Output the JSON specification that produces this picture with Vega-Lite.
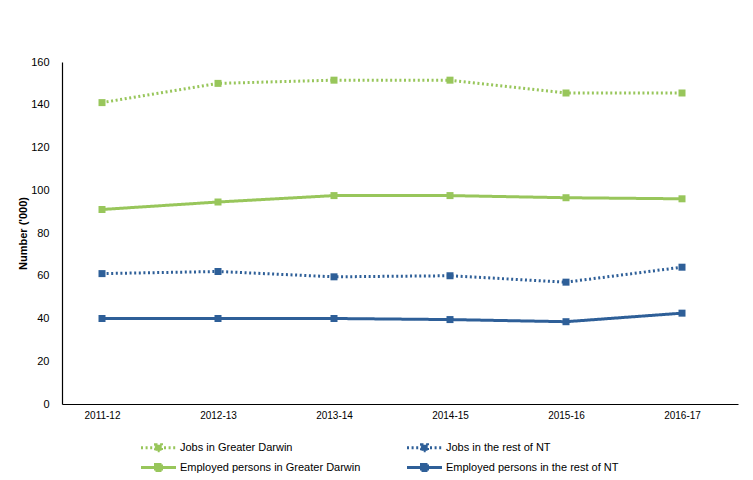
{
  "$schema": "https://vega.github.io/schema/vega-lite/v6.json",
  "autosize": {"type": "none"},
  "width": 676,
  "height": 342,
  "padding": {"left": 62, "top": 62, "right": 15, "bottom": 76},
  "background": "white",
  "config": {
    "view": {"stroke": null},
    "font": "Liberation Sans",
    "axis": {"grid": false, "ticks": false, "domainColor": "black", "domainWidth": 1.2, "labelColor": "black", "labelFont": "Liberation Sans", "titleFont": "Liberation Sans", "titleColor": "black"}
  },
  "data": {
    "values": [
      {"year": "2011-12", "series": "Jobs in Greater Darwin", "value": 141},
      {"year": "2012-13", "series": "Jobs in Greater Darwin", "value": 150},
      {"year": "2013-14", "series": "Jobs in Greater Darwin", "value": 151.5},
      {"year": "2014-15", "series": "Jobs in Greater Darwin", "value": 151.5},
      {"year": "2015-16", "series": "Jobs in Greater Darwin", "value": 145.5},
      {"year": "2016-17", "series": "Jobs in Greater Darwin", "value": 145.5},
      {"year": "2011-12", "series": "Jobs in the rest of NT", "value": 61},
      {"year": "2012-13", "series": "Jobs in the rest of NT", "value": 62},
      {"year": "2013-14", "series": "Jobs in the rest of NT", "value": 59.5},
      {"year": "2014-15", "series": "Jobs in the rest of NT", "value": 60},
      {"year": "2015-16", "series": "Jobs in the rest of NT", "value": 57},
      {"year": "2016-17", "series": "Jobs in the rest of NT", "value": 64},
      {"year": "2011-12", "series": "Employed persons in Greater Darwin", "value": 91},
      {"year": "2012-13", "series": "Employed persons in Greater Darwin", "value": 94.5},
      {"year": "2013-14", "series": "Employed persons in Greater Darwin", "value": 97.5},
      {"year": "2014-15", "series": "Employed persons in Greater Darwin", "value": 97.5},
      {"year": "2015-16", "series": "Employed persons in Greater Darwin", "value": 96.5},
      {"year": "2016-17", "series": "Employed persons in Greater Darwin", "value": 96},
      {"year": "2011-12", "series": "Employed persons in the rest of NT", "value": 40},
      {"year": "2012-13", "series": "Employed persons in the rest of NT", "value": 40},
      {"year": "2013-14", "series": "Employed persons in the rest of NT", "value": 40},
      {"year": "2014-15", "series": "Employed persons in the rest of NT", "value": 39.5},
      {"year": "2015-16", "series": "Employed persons in the rest of NT", "value": 38.5},
      {"year": "2016-17", "series": "Employed persons in the rest of NT", "value": 42.5}
    ]
  },
  "mark": {"type": "line", "strokeWidth": 3, "point": {"filled": true, "shape": "square", "size": 49, "opacity": 1}},
  "encoding": {
    "x": {
      "field": "year", "type": "ordinal",
      "scale": {"type": "point", "padding": 0.4138, "align": 0.4167},
      "axis": {"title": null, "labelAngle": 0, "labelFontSize": 10, "labelPadding": 6}
    },
    "y": {
      "field": "value", "type": "quantitative",
      "scale": {"domain": [0, 160], "nice": false},
      "axis": {"values": [0, 20, 40, 60, 80, 100, 120, 140, 160], "title": "Number ('000)", "titleFontSize": 11, "titleFontWeight": "bold", "labelFontSize": 11, "labelPadding": 13, "titlePadding": 2}
    },
    "color": {
      "field": "series", "type": "nominal",
      "scale": {
        "domain": ["Jobs in Greater Darwin", "Employed persons in Greater Darwin", "Jobs in the rest of NT", "Employed persons in the rest of NT"],
        "range": ["#98C65B", "#98C65B", "#2E5F98", "#2E5F98"]
      },
      "legend": {
        "title": null,
        "orient": "none",
        "legendX": 78,
        "legendY": 379,
        "columns": 2,
        "columnPadding": 40,
        "rowPadding": 1,
        "labelFontSize": 11,
        "labelLimit": 400,
        "labelColor": "black",
        "labelFont": "Liberation Sans",
        "symbolType": "M-3.5,0H3.5M-0.6,-0.6H0.6V0.6H-0.6Z",
        "symbolSize": 100,
        "symbolStrokeWidth": 3,
        "symbolOffset": 12,
        "labelOffset": 15,
        "encode": {"symbols": {"update": {"fill": {"scale": "color", "field": "value"}, "fillOpacity": {"value": 1}}}}
      }
    },
    "strokeDash": {
      "field": "series", "type": "nominal",
      "scale": {
        "domain": ["Jobs in Greater Darwin", "Employed persons in Greater Darwin", "Jobs in the rest of NT", "Employed persons in the rest of NT"],
        "range": [[2, 2.6], [1, 0], [2, 2.6], [1, 0]]
      },
      "legend": {
        "title": null,
        "orient": "none",
        "legendX": 78,
        "legendY": 379,
        "columns": 2,
        "columnPadding": 40,
        "rowPadding": 1,
        "labelFontSize": 11,
        "labelLimit": 400,
        "labelColor": "black",
        "labelFont": "Liberation Sans",
        "symbolType": "M-3.5,0H3.5M-0.6,-0.6H0.6V0.6H-0.6Z",
        "symbolSize": 100,
        "symbolStrokeWidth": 3,
        "symbolOffset": 12,
        "labelOffset": 15
      }
    }
  }
}
